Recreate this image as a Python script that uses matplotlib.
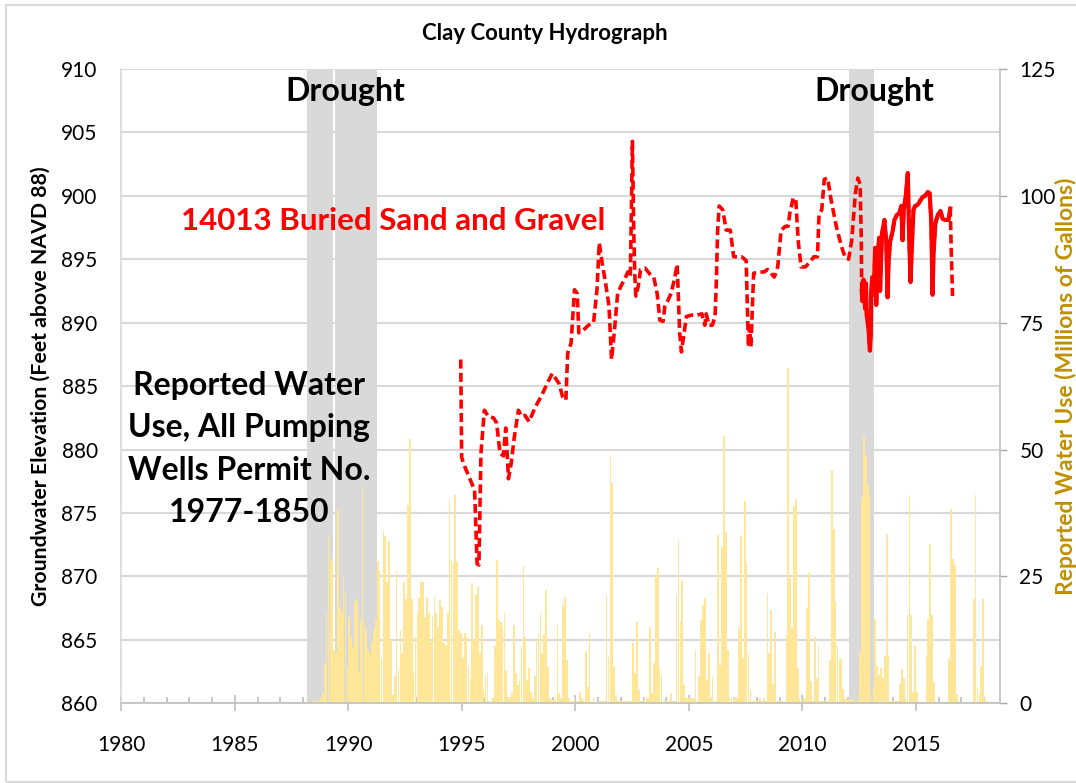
import numpy as np
import matplotlib.pyplot as plt
from matplotlib.patches import Rectangle

plt.rcParams['font.family'] = ['Lato', 'DejaVu Sans']

# monthly reported water use (millions of gallons), Jan..Dec
use_1988 = [0.3, 0.3, 0.3, 0.3, 0.3, 0.5, 0.3, 0.5, 0.5, 1, 2, 8]
use_1989 = [18, 33, 29, 28, 10.5, 10, 38, 19, 18, 25, 22, 7]
use_1990 = [17, 13, 11, 20, 20.5, 6, 16.5, 43, 16, 14.5, 10.5, 10]
use_1991 = [12, 14.5, 16.5, 28, 26, 9, 34, 33, 24, 32, 12.5, 1.6]
use_1992 = [5.3, 26, 6.6, 14.5, 10, 24, 20.5, 39, 52, 20.5, 6, 13]
use_1993 = [17.7, 20.7, 24, 24, 17, 21, 17.7, 12, 17, 21, 17.7, 15]
use_1994 = [20.4, 19, 11.8, 11.2, 17.7, 39.8, 28.3, 27.9, 41, 27.9, 14.5, 13.8]
use_1995 = [9, 13.8, 13.1, 7.2, 5, 23.7, 12.5, 21.4, 23, 10, 15.4, 2.6]
use_1996 = [5.3, 5.9, 0.5, 0.3, 1, 11.2, 28.3, 16.4, 16.1, 15.1, 17.7, 6.6]
use_1997 = [1, 1.3, 2, 15.4, 5.9, 3.6, 4.3, 11.2, 27, 13.1, 4.6, 6.9]
use_1998 = [2.3, 1, 5.3, 12.5, 13.8, 17.7, 9.9, 13.5, 22.3, 7.2, 1, 0.7]
use_1999 = [0.7, 1, 15.4, 2, 1, 19.4, 21, 8.5, 1, 0.5, 0.5, 1]
use_2000 = [0.5, 0.5, 2.3, 1, 0.5, 10.2, 3.3, 13.8, 0.5, 1, 0.3, 0.3]
use_2001 = [0.3, 0.5, 0.5, 0.5, 21.4, 9.2, 48.6, 43.4, 7.2, 1.6, 0.5, 0.5]
use_2002 = [0.5, 0.5, 0.5, 0.5, 0.5, 0.5, 11.8, 5.9, 16.1, 2.6, 0.5, 0.5]
use_2003 = [1, 1, 1, 15.1, 2, 7.9, 25, 26.6, 6.9, 5.6, 0.5, 0.5]
use_2004 = [0.5, 0.5, 2, 0.5, 0.5, 21.4, 32.2, 16.1, 24.3, 3.6, 1, 1]
use_2005 = [1, 1, 1, 10.5, 0.5, 5.3, 16.4, 19.4, 20.7, 4.6, 9.9, 1]
use_2006 = [5.3, 0.5, 0.5, 33.2, 7.6, 30.9, 52.6, 33.8, 10.5, 1, 1, 1]
use_2007 = [1, 1, 14.8, 32.9, 8.9, 39.8, 27.9, 9.9, 2.6, 0.5, 0.5, 0.5]
use_2008 = [0.5, 1, 0.5, 1, 0.5, 21.7, 9.9, 18.4, 3.9, 14.1, 0.5, 0.5]
use_2009 = [0.5, 0.5, 0.5, 13.5, 66, 24.6, 14.8, 38.8, 40.2, 6.9, 1, 1]
use_2010 = [1, 1, 18.7, 25.6, 4.3, 0.5, 13.1, 5, 11.2, 0.5, 0.5, 0.5]
use_2011 = [0.5, 0.5, 8.5, 46, 34.4, 20, 11.2, 8.8, 8.8, 2.9, 0.8, 0.8]
use_2012 = [0.8, 0.8, 0.5, 1.8, 0.5, 0.5, 10.1, 40.7, 52.5, 49, 43.1, 40.7]
use_2013 = [1.8, 3.2, 16.7, 7.4, 5.6, 7, 4.9, 9.4, 33.4, 9.4, 0.5, 0.5]
use_2014 = [0.5, 0.5, 0.5, 3.9, 6.7, 4.9, 1, 17.4, 41, 17.4, 2.2, 11.2]
use_2015 = [2.2, 0.3, 0.3, 0.3, 0.3, 9.1, 16.7, 31.3, 17.4, 4.2, 0.3, 0.3]
use_2016 = [0.3, 0.3, 0.3, 0.3, 0.3, 8.8, 38.3, 28.5, 27.2, 1.8, 0.3, 0.3]
use_2017 = [0.3, 0.3, 0.3, 0.3, 0.3, 0.3, 20.6, 41, 3.2, 1.8, 7.4, 20.6]
use_2018 = [0.8, 0.3]

# groundwater elevation, well 14013 (decimal year, feet)
gw_year = [1994.95, 1994.99, 1995.07, 1995.44, 1995.56, 1995.67, 1995.75, 1995.84, 1995.99,
           1996.17, 1996.39, 1996.53, 1996.68, 1996.83, 1996.93, 1997.00, 1997.05, 1997.17,
           1997.31, 1997.49, 1997.64, 1997.78, 1997.96, 1998.22, 1998.52, 1998.81, 1998.98,
           1999.28, 1999.43, 1999.58, 1999.66, 1999.81, 1999.96, 2000.08, 2000.15, 2000.34,
           2000.57, 2000.80, 2000.95, 2001.05, 2001.18, 2001.33, 2001.48, 2001.59, 2001.71,
           2001.86, 2002.01, 2002.16, 2002.31, 2002.42, 2002.51, 2002.57, 2002.62, 2002.66,
           2002.77, 2002.87, 2003.07, 2003.30, 2003.45, 2003.60, 2003.72, 2003.86, 2003.94,
           2004.06, 2004.21, 2004.36, 2004.48, 2004.54, 2004.59, 2004.67, 2004.79, 2004.89,
           2005.12, 2005.35, 2005.57, 2005.70, 2005.76, 2005.88, 2006.03, 2006.15, 2006.21,
           2006.26, 2006.33, 2006.49, 2006.64, 2006.82, 2006.97, 2007.12, 2007.32, 2007.52,
           2007.62, 2007.67, 2007.73, 2007.85, 2008.08, 2008.31, 2008.46, 2008.76, 2008.91,
           2009.06, 2009.25, 2009.37, 2009.44, 2009.59, 2009.70, 2009.82, 2009.94, 2010.13,
           2010.28, 2010.51, 2010.66, 2010.73, 2010.85, 2010.96, 2011.11, 2011.26, 2011.49,
           2011.72, 2011.87, 2012.03, 2012.17, 2012.33, 2012.44, 2012.54, 2012.59]
gw_elev = [887.1, 879.4, 878.9, 877.3, 876.8, 871.0, 870.9, 879.7, 883.1,
           882.6, 882.5, 882.1, 879.7, 879.5, 881.7, 879.5, 877.7, 878.9,
           881.0, 883.1, 882.6, 882.7, 882.2, 883.3, 884.3, 885.4, 886.0,
           885.2, 884.2, 883.9, 887.6, 888.4, 892.6, 892.3, 889.2, 889.4,
           889.8, 890.0, 892.6, 896.3, 894.7, 893.1, 891.3, 887.1, 889.2,
           892.3, 892.9, 893.4, 894.0, 893.6, 904.3, 897.1, 893.6, 892.1,
           892.9, 894.2, 894.3, 893.8, 893.6, 892.3, 890.2, 890.1, 891.3,
           891.7, 892.3, 893.4, 894.6, 891.8, 889.2, 887.7, 889.2, 890.5,
           890.6, 890.6, 890.7, 889.8, 890.7, 889.8, 889.8, 890.5, 893.4,
           897.1, 899.2, 898.9, 897.3, 897.3, 895.2, 895.2, 895.2, 894.9,
           888.1, 889.7, 888.1, 893.9, 894.0, 894.0, 894.2, 893.6, 894.4,
           897.3, 897.6, 897.6, 898.6, 899.8, 899.8, 896.3, 894.4, 894.4,
           894.7, 895.2, 895.2, 898.6, 898.9, 901.3, 901.4, 899.7, 897.6,
           896.0, 895.2, 895.0, 896.5, 900.2, 901.4, 900.9, 896.7]
# transducer record (dense readings)
gw_year_dense = [2012.61, 2012.64, 2012.69, 2012.76, 2012.79, 2012.83, 2012.91, 2012.97, 2013.01,
                 2013.03, 2013.08, 2013.14, 2013.20, 2013.25, 2013.31, 2013.38, 2013.42, 2013.50,
                 2013.61, 2013.69, 2013.75, 2013.79, 2013.86, 2013.97, 2014.05, 2014.16, 2014.26,
                 2014.35, 2014.41, 2014.46, 2014.55, 2014.64, 2014.70, 2014.76, 2014.82, 2014.89,
                 2014.96, 2015.08, 2015.18, 2015.29, 2015.40, 2015.52, 2015.60, 2015.67, 2015.73,
                 2015.77, 2015.85, 2015.96, 2016.08, 2016.17, 2016.28, 2016.43, 2016.51]
gw_elev_dense = [892.5, 891.7, 893.4, 891.1, 893.1, 890.6, 889.5, 887.8, 889.2,
                 892.5, 893.6, 892.2, 895.9, 891.4, 895.3, 896.7, 892.5, 897.0,
                 898.1, 896.4, 892.0, 894.7, 896.4, 897.2, 898.1, 898.5, 898.6,
                 899.2, 896.5, 898.9, 900.0, 901.8, 896.7, 893.2, 896.1, 898.9,
                 899.2, 899.3, 899.6, 899.9, 900.0, 900.3, 900.2, 898.1, 892.2,
                 895.3, 897.8, 898.5, 898.8, 898.2, 898.1, 898.1, 899.0]
gw_year_end = [2016.55, 2016.61]
gw_elev_end = [895.9, 892.1]

drought_start = [1988.19, 1989.43, 2012.07]
drought_end = [1989.34, 1991.25, 2013.17]

use = np.concatenate([use_1988, use_1989, use_1990, use_1991, use_1992, use_1993, use_1994,
                      use_1995, use_1996, use_1997, use_1998, use_1999, use_2000, use_2001,
                      use_2002, use_2003, use_2004, use_2005, use_2006, use_2007, use_2008,
                      use_2009, use_2010, use_2011, use_2012, use_2013, use_2014, use_2015,
                      use_2016, use_2017, use_2018])
use_x = 1988 + (np.arange(len(use)) + 0.5) / 12

W, H = 1076, 783
fig = plt.figure(figsize=(W / 100, H / 100), dpi=100)
L, R, T, B = 121.3, 1000, 69, 703.3
ax = fig.add_axes([L / W, 1 - B / H, (R - L) / W, (B - T) / H])
ax2 = ax.twinx()

# water use bars and drought bands on the right-hand axis
for s, e in zip(drought_start, drought_end):
    ax.axvspan(s, e, color='#D9D9D9', lw=0, zorder=1)
ax.bar(use_x, use, width=0.9 / 12, color='#FFE699', linewidth=0, zorder=2)

ax.set_xlim(1980, 2018.7)
ax.set_ylim(0, 125)
ax.yaxis.tick_right()
ax.set_yticks(np.arange(0, 126, 25))
ax.set_yticks(np.arange(0, 126, 12.5), minor=True)
ax.set_axisbelow(True)
ax.grid(axis='y', which='both', color='#D9D9D9', lw=1.5)
ax.tick_params(axis='y', which='minor', length=0)
ax.tick_params(axis='y', which='major', direction='out', length=5, width=1,
               color='#A6A6A6', labelsize=15, pad=9)
ax.set_xticks(np.arange(1980, 2016, 5))
ax.set_xticks(np.arange(1980, 2019, 1), minor=True)
ax.tick_params(axis='x', which='major', direction='inout', length=11, width=1.2,
               color='#BFBFBF', labelsize=15, pad=17)
ax.tick_params(axis='x', which='minor', direction='in', length=4.5, width=1.2, color='#BFBFBF')
ax.spines['top'].set_visible(False)
ax.spines['left'].set_color('#D9D9D9')
ax.spines['right'].set_color('#BFBFBF')
ax.spines['bottom'].set_color('#BFBFBF')
for sp in ['left', 'right', 'bottom']:
    ax.spines[sp].set_linewidth(1.2)

# groundwater elevation on the left-hand axis
ax2.set_ylim(860, 910)
ax2.yaxis.tick_left()
ax2.set_yticks(np.arange(860, 911, 5))
ax2.tick_params(axis='y', length=0, labelsize=15, pad=17)
for sp in ax2.spines.values():
    sp.set_visible(False)

dash = (0, (2.5, 1.2))
ax2.plot(gw_year + gw_year_dense + gw_year_end, gw_elev + gw_elev_dense + gw_elev_end,
         color='#FF0000', lw=2.6, linestyle=dash, zorder=3)
ax2.plot(gw_year_dense, gw_elev_dense, color='#FF0000', lw=3.0, zorder=3)


def elev(ypix):
    return 860 + (B - ypix) / 12.68


ax2.text(1989.85, elev(101.7), 'Drought', ha='center', va='baseline', fontsize=23, fontweight='bold')
ax2.text(2013.16, elev(101.7), 'Drought', ha='center', va='baseline', fontsize=23, fontweight='bold')
ax2.text(1991.96, elev(230.5), '14013 Buried Sand and Gravel', ha='center', va='baseline',
         fontsize=22.5, fontweight='bold', color='#FF0000')
block = ['Reported Water', 'Use, All Pumping', 'Wells Permit No.', '1977-1850']
for i, line in enumerate(block):
    ax2.text(1985.62, elev(395 + 42.4 * i), line, ha='center', va='baseline',
             fontsize=23, fontweight='bold')

fig.text(545 / W, 1 - 33 / H, 'Clay County Hydrograph', ha='center', va='center',
         fontsize=16, fontweight='bold')
fig.text(41 / W, 1 - 386.5 / H, 'Groundwater Elevation (Feet above NAVD 88)', rotation=90,
         ha='center', va='center', fontsize=15.3, fontweight='bold')
fig.text(1066 / W, 1 - 386 / H, 'Reported Water Use (Millions of Gallons)', rotation=90,
         ha='center', va='center', fontsize=16.5, fontweight='bold', color='#BF9000')

fig.patches.append(Rectangle((6 / W, 1.3 / H), 1.0, (781.7 - 5) / H, transform=fig.transFigure,
                             fill=False, edgecolor='#D9D9D9', lw=1.5))

fig.savefig('out.png', dpi=100)
